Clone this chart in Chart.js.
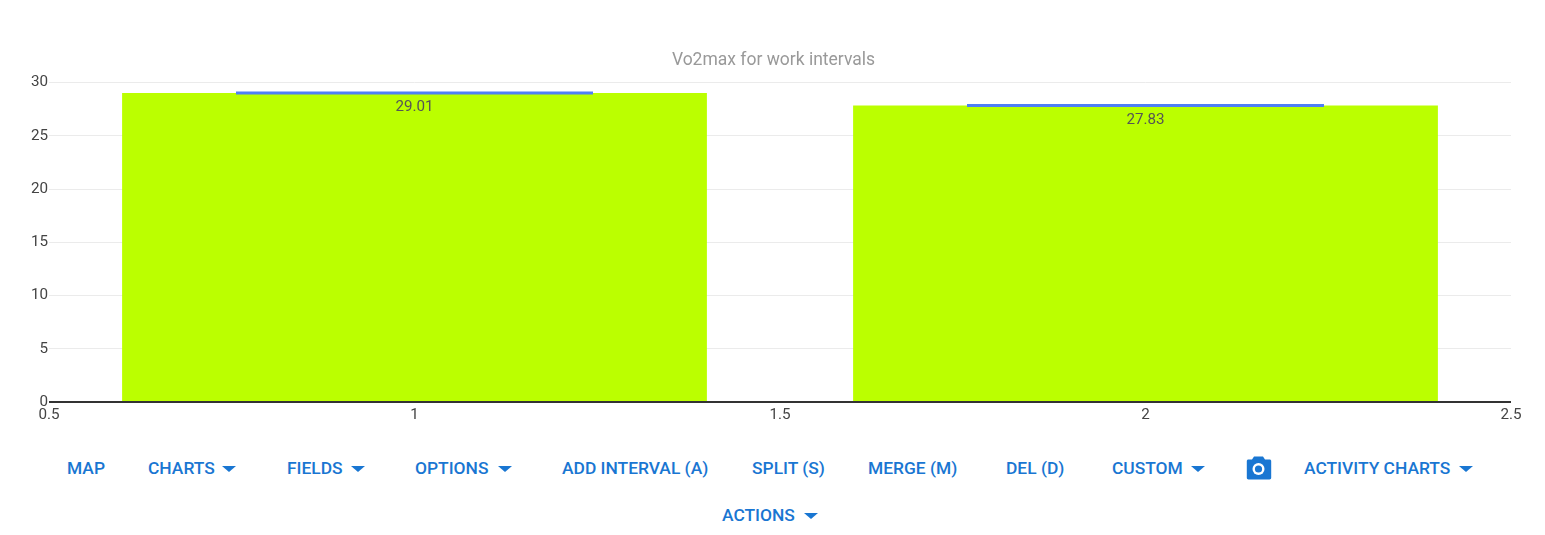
<!DOCTYPE html>
<html>
<head>
<meta charset="utf-8">
<title>Vo2max for work intervals</title>
<script src="https://cdn.jsdelivr.net/npm/chart.js@4"></script>
<style>
html,body{margin:0;padding:0;background:#fff;overflow:hidden;}
#wrap{position:relative;width:1545px;height:535px;}
#chart{position:absolute;left:0;top:0;}
.btn{position:absolute;transform:translateY(-50%);font:500 17.4px Roboto,sans-serif;color:#1976d2;white-space:nowrap;}
.caret{position:absolute;width:0;height:0;border-left:7px solid transparent;border-right:7px solid transparent;border-top:6.5px solid #1976d2;transform:translateY(-2px);}
.cam{position:absolute;left:1245px;top:455px;}
</style>
</head>
<body>
<div id="wrap">
	<canvas id="chart" width="1545" height="440"></canvas>
	<div id="toolbar"></div>
	<svg class="cam" width="27" height="26" viewBox="0 0 27 26">
		<path fill="#1976d2" d="M9 1.5h9l2 3h4.5c1 0 1.7.7 1.7 1.7v16.6c0 1-.7 1.7-1.7 1.7h-21c-1 0-1.7-.7-1.7-1.7V6.2c0-1 .7-1.7 1.7-1.7H7z"/>
		<circle cx="13.5" cy="14" r="6" fill="#fff"/>
		<circle cx="13.5" cy="14" r="3.6" fill="#1976d2"/>
	</svg>
</div>
<script>
var intervalos=[1,2];
var vo2max=[29.01,27.83];
var ticksX=[0.5,1,1.5,2,2.5];
var ticksY=[0,5,10,15,20,25,30];

// barra de la botonera: texto, x, y, x del triangulo
var botones=[
	["MAP",67,468,null],
	["CHARTS",148,468,222],
	["FIELDS",287,468,351],
	["OPTIONS",415,468,498],
	["ADD INTERVAL (A)",562,468,null],
	["SPLIT (S)",752,468,null],
	["MERGE (M)",868,468,null],
	["DEL (D)",1006,468,null],
	["CUSTOM",1112,468,1191],
	["ACTIVITY CHARTS",1304,468,1459],
	["ACTIONS",722,515,804]
];

function puntos(){
	return intervalos.map(function(x,i){ return {x:x,y:vo2max[i]}; });
}

function pintarBotones(){
	var caja=document.getElementById('toolbar');
	botones.forEach(function(b){
		var el=document.createElement('div');
		el.className='btn';
		el.textContent=b[0];
		el.style.left=b[1]+'px';
		el.style.top=b[2]+'px';
		caja.appendChild(el);
		if(b[3]!==null){
			var c=document.createElement('div');
			c.className='caret';
			c.style.left=b[3]+'px';
			c.style.top=b[2]+'px';
			caja.appendChild(c);
		}
	});
}

// etiqueta del valor debajo de la linea azul
var etiquetas={
	id:'etiquetas',
	afterLayout:function(chart){
		// el titulo va centrado un poco a la derecha del hueco que le da el layout
		chart.titleBlock.right+=36;
	},
	afterDatasetsDraw:function(chart){
		var ctx=chart.ctx;
		ctx.save();
		ctx.font='15.2px Roboto';
		ctx.fillStyle='#555';
		ctx.textAlign='center';
		ctx.textBaseline='middle';
		vo2max.forEach(function(v,i){
			var x=chart.scales.x.getPixelForValue(intervalos[i]);
			var y=chart.scales.y.getPixelForValue(v);
			ctx.fillText(v.toFixed(2),x,y+14.5);
		});
		ctx.restore();
	}
};

var canvas=document.getElementById('chart').getContext('2d');
window.grafico=new Chart(canvas,{
	type:'bar',
	data:{
		datasets:[
			{
				type:'scatter',
				data:puntos(),
				pointStyle:'line',
				pointRadius:178.5,
				pointHoverRadius:178.5,
				pointBorderColor:'#4f7ff5',
				pointBorderWidth:3,
				order:0
			},
			{
				type:'bar',
				data:puntos(),
				backgroundColor:'#bbff00',
				// el ancho minimo lo da el paso de ticks (0.5), por eso 1.6
				categoryPercentage:1.6,
				barPercentage:1,
				order:1
			}
		]
	},
	options:{
		responsive:false,
		animation:false,
		layout:{autoPadding:false,padding:{top:37,right:34,left:0,bottom:0}},
		plugins:{
			legend:{display:false},
			tooltip:{enabled:false},
			title:{
				display:true,
				text:'Vo2max for work intervals',
				color:'#999',
				font:{family:'Roboto',size:17.5,weight:'normal',lineHeight:1.2},
				padding:{top:13,bottom:11.5}
			}
		},
		scales:{
			x:{
				type:'linear',
				offset:false,
				min:0.5,
				max:2.5,
				afterBuildTicks:function(s){ s.ticks=ticksX.map(function(v){ return {value:v}; }); },
				afterFit:function(s){ s.height=38; },
				grid:{display:false},
				border:{display:false},
				ticks:{color:'#444',font:{family:'Roboto',size:15.2},padding:-4,maxRotation:0,autoSkip:false,
					callback:function(v){ return String(v); }}
			},
			y:{
				min:0,
				max:30,
				afterBuildTicks:function(s){ s.ticks=ticksY.map(function(v){ return {value:v}; }); },
				afterFit:function(s){ s.width=49; },
				grid:{
					drawTicks:false,
					color:function(c){ return c.tick.value===0 ? '#333' : '#ebebeb'; },
					lineWidth:function(c){ return c.tick.value===0 ? 2 : 1; }
				},
				border:{display:false},
				ticks:{color:'#444',font:{family:'Roboto',size:15.2},padding:1,autoSkip:false}
			}
		}
	},
	plugins:[etiquetas]
});

pintarBotones();
</script>
</body>
</html>
